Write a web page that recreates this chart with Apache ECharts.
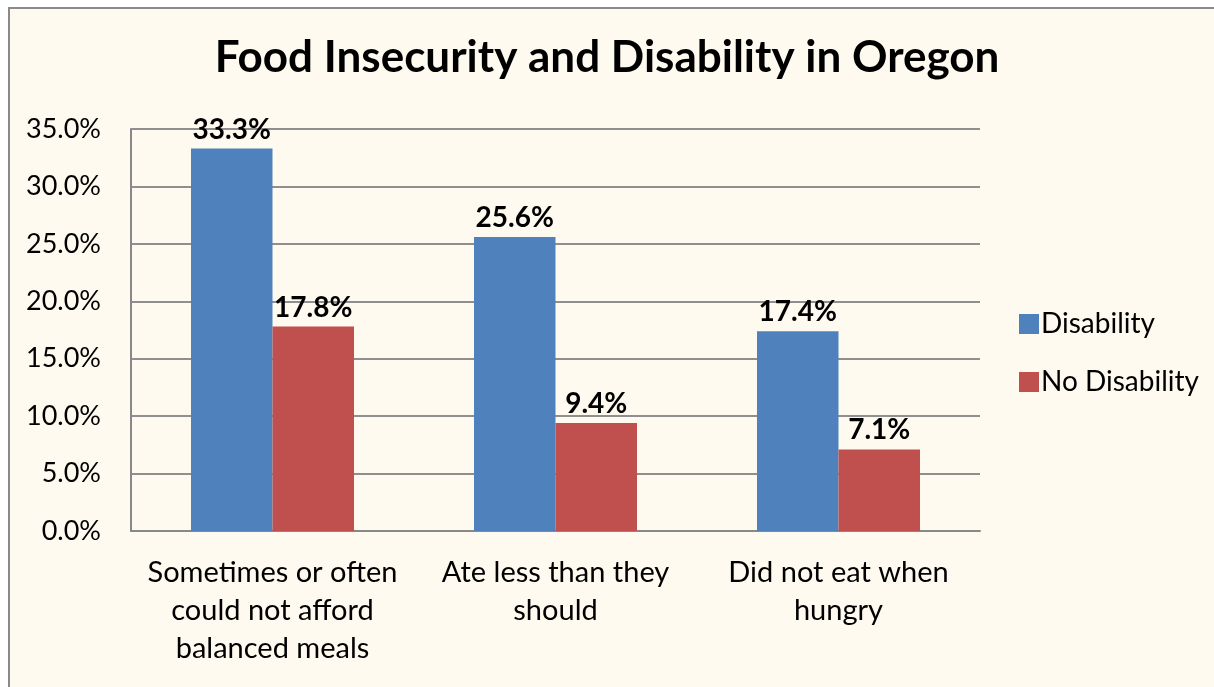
<!DOCTYPE html>
<html>
<head>
<meta charset="utf-8">
<script src="https://cdn.jsdelivr.net/npm/echarts@6/dist/echarts.min.js"></script>
<style>
	html, body { margin: 0; padding: 0; background: #ffffff; }
	#food_chart { width: 1214px; height: 687px; }
</style>
</head>
<body>
<div id="food_chart"></div>
<script>
const categories = ['Sometimes or often\ncould not afford\nbalanced meals', 'Ate less than they\nshould', 'Did not eat when\nhungry'];
const disability = [33.3, 25.6, 17.4];
const noDisability = [17.8, 9.4, 7.1];
const seriesNames = ['Disability', 'No Disability'];

const chartDom = document.getElementById('food_chart');
const myChart = echarts.init(chartDom);

const font = 'Lato, "Open Sans", sans-serif';
const labelStyle = {
	show: true,
	position: 'top',
	distance: 5,
	color: '#000',
	fontFamily: font,
	fontWeight: 'bold',
	fontSize: 28,
	formatter: p => p.value.toFixed(1) + '%'
};

let option = {
	backgroundColor: '#ffffff',
	color: ['#4f81bd', '#c0504d'],
	textStyle: {fontFamily: font},
	graphic: [{
		type: 'rect',
		z: -10,
		shape: {x: 9, y: 8, width: 2000, height: 2000},
		style: {fill: '#fffaef', stroke: '#8a8a8a', lineWidth: 2}
	}],
	title: {
		text: 'Food Insecurity and Disability in Oregon',
		left: 'center',
		top: 31,
		textStyle: {color: '#000', fontFamily: font, fontWeight: 'bold', fontSize: 44}
	},
	legend: {
		orient: 'vertical',
		left: 1014,
		top: 305,
		itemWidth: 20,
		itemHeight: 20,
		itemGap: 30,
		icon: 'rect',
		textStyle: {color: '#000', fontFamily: font, fontSize: 28, padding: [0, 0, 0, -3]},
		data: seriesNames
	},
	grid: {left: 131, right: 234, top: 129, bottom: 156},
	xAxis: {
		type: 'category',
		data: categories,
		axisLine: {lineStyle: {color: '#888', width: 2}},
		axisTick: {show: false},
		axisLabel: {
			interval: 0, hideOverlap: false,
			color: '#000', fontFamily: font, fontSize: 29, lineHeight: 38, margin: 23
		}
	},
	yAxis: {
		type: 'value',
		min: 0,
		max: 35,
		interval: 5,
		axisLine: {show: true, lineStyle: {color: '#888', width: 2}},
		axisTick: {show: false},
		splitLine: {lineStyle: {color: '#8f8f8f', width: 2}},
		axisLabel: {
			color: '#000', fontFamily: font, fontSize: 27, margin: 30,
			formatter: v => v.toFixed(1) + '%'
		}
	},
	series: [
		{
			name: seriesNames[0],
			type: 'bar',
			barWidth: '28.8%',
			barGap: '0%',
			label: labelStyle,
			data: disability
		},
		{
			name: seriesNames[1],
			type: 'bar',
			barWidth: '28.8%',
			label: labelStyle,
			data: noDisability
		}
	]
};

option && myChart.setOption(option);
</script>
</body>
</html>
